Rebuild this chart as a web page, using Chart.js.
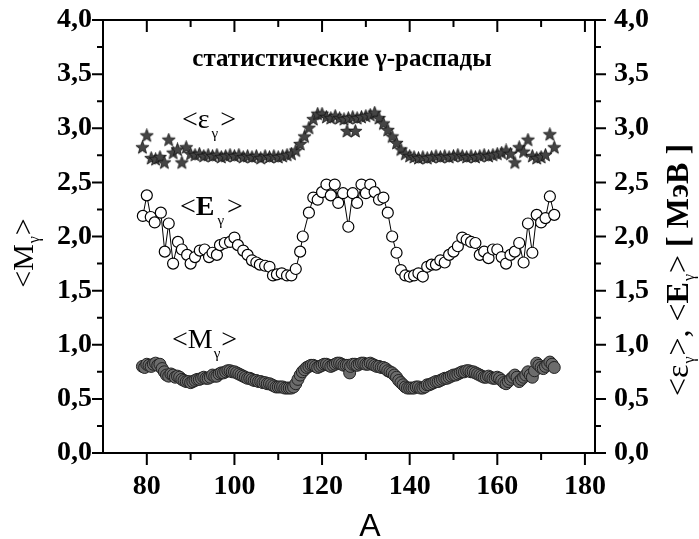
<!DOCTYPE html>
<html>
<head>
<meta charset="utf-8">
<script src="https://cdn.jsdelivr.net/npm/chart.js@4/dist/chart.umd.min.js"></script>
<style>
  html, body { margin: 0; padding: 0; background: #fff; }
  #wrap { width: 699px; height: 539px; }
</style>
</head>
<body>
<div id="wrap"><canvas id="c" width="699" height="539"></canvas></div>
<script>
// Mean gamma-ray energy per decay step <ε_γ> (stars), MeV
const epsA = [79,80,81,82,83,84,85,86,87,88,89,90,91,92,93,94,95,96,97,98,99,100,101,102,103,104,105,106,107,108,109,110,111,112,113,114,115,116,117,118,119,120,121,122,123,124,125,125.7,126,127,127.6,128,129,130,131,132,133,134,135,136,137,138,139,140,141,142,143,144,145,146,147,148,149,150,151,152,153,154,155,156,157,158,159,160,161,162,163,164,165,166,167,168,169,170,171,172,173];
const epsVals = [2.82,2.93,2.72,2.71,2.73,2.68,2.89,2.77,2.80,2.68,2.82,2.76,2.75,2.76,2.74,2.75,2.74,2.75,2.73,2.74,2.75,2.74,2.75,2.73,2.74,2.73,2.74,2.72,2.74,2.73,2.74,2.73,2.74,2.75,2.76,2.79,2.85,2.92,3.00,3.08,3.13,3.13,3.10,3.09,3.11,3.09,3.08,2.97,3.09,3.10,2.97,3.09,3.10,3.11,3.12,3.14,3.09,3.04,2.98,2.92,2.86,2.80,2.76,2.74,2.73,2.72,2.73,2.72,2.73,2.74,2.73,2.74,2.73,2.74,2.75,2.74,2.73,2.74,2.73,2.74,2.75,2.74,2.75,2.76,2.77,2.79,2.76,2.68,2.82,2.78,2.89,2.74,2.72,2.73,2.75,2.94,2.82];

// Mean total gamma energy <E_γ> (open circles), MeV
const eA = [79.1,80,80.9,81.8,83.2,84.1,85,86,87.1,88,89.2,90,91,92.1,93.2,94.2,95,96,96.7,97.8,99,100,100.8,102,103,104,105,105.8,107,108,108.8,109.7,110.8,112,113,114,115,115.6,117,118,119,120,121,122,122.9,123.7,124.8,126,127,128,129,130,131,132,133,134,135,136,137,138,139,140,141,142,143,144,145,146,147,148,149,150,151,152,153,154,155,156,157,158,159,160,161,162,163,164,165,166,167,168,169,170,171,172,173];
const eVals = [2.19,2.38,2.18,2.13,2.22,1.86,2.12,1.75,1.95,1.88,1.83,1.75,1.81,1.87,1.88,1.81,1.85,1.83,1.92,1.94,1.95,1.99,1.92,1.87,1.83,1.78,1.76,1.74,1.73,1.72,1.64,1.65,1.66,1.64,1.64,1.70,1.86,2.00,2.22,2.36,2.34,2.41,2.48,2.38,2.48,2.31,2.40,2.09,2.40,2.31,2.48,2.40,2.48,2.41,2.34,2.36,2.22,2.00,1.85,1.69,1.64,1.63,1.64,1.66,1.63,1.72,1.74,1.74,1.78,1.76,1.83,1.86,1.91,1.99,1.97,1.95,1.94,1.83,1.86,1.80,1.88,1.88,1.81,1.75,1.83,1.86,1.94,1.76,2.12,1.85,2.20,2.13,2.17,2.37,2.20];

// Mean gamma multiplicity <M_γ> (filled circles)
const mA = [79,79.5,80,80.5,81,81.5,82,82.5,83,83.5,84,84.5,85,85.5,86,86.5,87,87.5,88,88.5,89,89.5,90,90.5,91,91.5,92,92.5,93,93.5,94,94.5,95,95.5,96,96.5,97,97.5,98,98.5,99,99.5,100,100.5,101,101.5,102,102.5,103,103.5,104,104.5,105,105.5,106,106.5,107,107.5,108,108.5,109,109.5,110,110.5,111,111.5,112,112.5,113,113.5,114,114.5,115,115.5,116,116.5,117,117.5,118,118.5,119,119.5,120,120.5,121,121.5,122,122.5,123,123.5,124,124.5,125,125.5,126,126.3,126.5,127,127.5,128,128.5,129,129.5,130,130.5,131,131.5,132,132.5,133,133.5,134,134.5,135,135.5,136,136.5,137,137.5,138,138.5,139,139.5,140,140.5,141,141.5,142,142.5,143,143.5,144,144.5,145,145.5,146,146.5,147,147.5,148,148.5,149,149.5,150,150.5,151,151.5,152,152.5,153,153.5,154,154.5,155,155.5,156,156.5,157,157.5,158,158.5,159,159.5,160,160.5,161,161.5,162,162.5,163,163.5,164,164.5,165,165.5,166,166.5,167,167.5,168,168.5,169,169.5,170,170.5,171,171.5,172,172.5,173];
const mVals = [0.80,0.79,0.82,0.81,0.80,0.82,0.83,0.81,0.82,0.78,0.75,0.72,0.71,0.73,0.72,0.70,0.71,0.70,0.68,0.67,0.66,0.66,0.65,0.66,0.67,0.68,0.68,0.69,0.70,0.69,0.69,0.70,0.72,0.71,0.71,0.73,0.74,0.74,0.75,0.76,0.76,0.75,0.75,0.74,0.73,0.72,0.71,0.70,0.69,0.69,0.68,0.67,0.67,0.66,0.66,0.65,0.65,0.64,0.64,0.63,0.62,0.61,0.61,0.61,0.61,0.60,0.60,0.60,0.60,0.61,0.64,0.68,0.72,0.75,0.77,0.79,0.80,0.81,0.81,0.80,0.79,0.80,0.81,0.82,0.82,0.81,0.80,0.81,0.82,0.83,0.83,0.82,0.81,0.81,0.81,0.74,0.80,0.82,0.82,0.81,0.82,0.83,0.83,0.82,0.82,0.83,0.82,0.81,0.80,0.80,0.79,0.79,0.78,0.76,0.75,0.74,0.72,0.70,0.67,0.65,0.63,0.61,0.60,0.60,0.60,0.60,0.61,0.61,0.60,0.60,0.61,0.63,0.63,0.64,0.65,0.66,0.66,0.67,0.68,0.69,0.69,0.70,0.71,0.72,0.72,0.73,0.74,0.75,0.75,0.76,0.76,0.75,0.75,0.74,0.73,0.72,0.71,0.70,0.70,0.71,0.70,0.69,0.69,0.70,0.69,0.67,0.65,0.64,0.66,0.68,0.70,0.72,0.70,0.66,0.68,0.70,0.72,0.75,0.72,0.70,0.76,0.83,0.81,0.79,0.78,0.80,0.82,0.84,0.82,0.79];

// Axis ticks
const xMajorTicks = [80, 100, 120, 140, 160, 180];
const xMinorTicks = [90, 110, 130, 150, 170];
const yMajorTicks = [0, 0.5, 1, 1.5, 2, 2.5, 3, 3.5, 4];
const yMinorTicks = [0.25, 0.75, 1.25, 1.75, 2.25, 2.75, 3.25, 3.75];

const SERIF = '"Liberation Serif", "Times New Roman", serif';
const SANS = '"Liberation Sans", Arial, sans-serif';

const pts = (xs, ys) => xs.map((x, i) => ({ x, y: ys[i] }));

// five-pointed star marker
function makeStar(size) {
  const c = document.createElement('canvas');
  c.width = size; c.height = size;
  const g = c.getContext('2d');
  const cx = size / 2, cy = size / 2, R = size / 2 - 0.6, r = R * 0.42;
  g.beginPath();
  for (let i = 0; i < 10; i++) {
    const rad = i % 2 === 0 ? R : r;
    const ang = -Math.PI / 2 + i * Math.PI / 5;
    const px = cx + rad * Math.cos(ang), py = cy + rad * Math.sin(ang);
    if (i === 0) g.moveTo(px, py); else g.lineTo(px, py);
  }
  g.closePath();
  g.fillStyle = '#454545';
  g.fill();
  g.lineWidth = 0.8;
  g.strokeStyle = '#111';
  g.stroke();
  return c;
}
const starImg = makeStar(15);

// text run with subscripts: pieces = [text, font, dy, dxBefore]
function runWidth(ctx, pieces) {
  let w = 0;
  for (const [t, f, dy, dx] of pieces) { ctx.font = f; w += (dx || 0) + ctx.measureText(t).width; }
  return w;
}
function runText(ctx, x, y, pieces) {
  let cx = x;
  for (const [t, f, dy, dx] of pieces) {
    ctx.font = f;
    cx += dx || 0;
    ctx.fillText(t, cx, y + (dy || 0));
    cx += ctx.measureText(t).width;
  }
}

const R28 = '28px ' + SERIF, B28 = 'bold 28px ' + SERIF, R30 = '30px ' + SERIF, R32 = '32px ' + SERIF;
const S15 = '15px ' + SERIF, S16 = '16px ' + SERIF;

const decor = {
  id: 'decor',
  afterDraw(chart) {
    const { ctx, chartArea: a, scales: { x, y } } = chart;
    ctx.save();
    ctx.strokeStyle = '#000';
    ctx.lineWidth = 2;
    // frame
    ctx.strokeRect(a.left, a.top, a.right - a.left, a.bottom - a.top);
    ctx.beginPath();
    const yt = (v, len) => {
      const p = y.getPixelForValue(v);
      ctx.moveTo(a.left - len, p); ctx.lineTo(a.left, p);
      ctx.moveTo(a.right, p); ctx.lineTo(a.right + len, p);
    };
    const xt = (v, len) => {
      const p = x.getPixelForValue(v);
      ctx.moveTo(p, a.bottom); ctx.lineTo(p, a.bottom + len);
      ctx.moveTo(p, a.top); ctx.lineTo(p, a.top + len);
    };
    yMajorTicks.forEach(v => yt(v, 11));
    yMinorTicks.forEach(v => yt(v, 6));
    xMajorTicks.forEach(v => xt(v, 12));
    xMinorTicks.forEach(v => xt(v, 7));
    ctx.stroke();

    ctx.fillStyle = '#000';
    ctx.textBaseline = 'alphabetic';
    ctx.textAlign = 'left';

    // heading
    ctx.font = 'bold 25px ' + SERIF;
    ctx.textAlign = 'center';
    ctx.fillText('статистические γ-распады', 342, 66);
    ctx.textAlign = 'left';

    // series labels
    runText(ctx, 182, 128, [['<ε', R28], ['γ', S15, 10, 2], ['>', R28, 0, 2]]);
    runText(ctx, 180, 215, [['<', R28], ['E', B28], ['γ', S15, 10, 3], ['>', R28, 0, 3]]);
    runText(ctx, 172, 348, [['<M', R28], ['γ', S15, 10, 1], ['>', R28, 0, 1]]);

    // x axis title
    ctx.font = '32px ' + SANS;
    ctx.textAlign = 'center';
    ctx.fillText('A', 370, 536);
    ctx.textAlign = 'left';

    // left axis title
    const leftT = [['<M', R30], ['γ', S16, 6, 1], ['>', R30, 0, 1]];
    const lw = runWidth(ctx, leftT);
    ctx.save();
    ctx.translate(33, 253 + lw / 2);
    ctx.rotate(-Math.PI / 2);
    runText(ctx, 0, 0, leftT);
    ctx.restore();

    // right axis title
    const rightT = [['<ε', R32], ['γ', S16, 6, 1], ['>, <', R32, 0, 1], ['E', 'bold 32px ' + SERIF], ['γ', S16, 6, 1], ['>', R32, 0, 1], [' [ МэВ ]', 'bold 32px ' + SERIF]];
    const rw = runWidth(ctx, rightT);
    ctx.save();
    ctx.translate(688, 270 + rw / 2);
    ctx.rotate(-Math.PI / 2);
    runText(ctx, 0, 0, rightT);
    ctx.restore();

    ctx.restore();
  }
};

const tickFont = { family: SERIF, size: 28, weight: 'bold' };
const commaFmt = v => v.toFixed(1).replace('.', ',');
// fixed axis sizes, no extra label overhang padding
const fixSize = (w, h) => s => {
  if (w !== null) s.width = w;
  if (h !== null) s.height = h;
  s.paddingTop = 0; s.paddingBottom = 0; s.paddingLeft = 0; s.paddingRight = 0;
};

new Chart(document.getElementById('c'), {
  type: 'scatter',
  data: {
    datasets: [
      {
        label: '<M_γ>',
        data: pts(mA, mVals),
        showLine: false,
        pointRadius: 6,
        pointBackgroundColor: '#6c6c6c',
        pointBorderColor: '#222',
        pointBorderWidth: 1,
        yAxisID: 'y'
      },
      {
        label: '<E_γ>',
        data: pts(eA, eVals),
        showLine: true,
        borderColor: '#000',
        borderWidth: 1,
        pointRadius: 5.5,
        pointBackgroundColor: '#fff',
        pointBorderColor: '#000',
        pointBorderWidth: 1.2,
        yAxisID: 'y'
      },
      {
        label: '<ε_γ>',
        data: pts(epsA, epsVals),
        showLine: false,
        pointStyle: starImg,
        pointRadius: 7,
        yAxisID: 'y'
      }
    ]
  },
  options: {
    responsive: false,
    animation: false,
    events: [],
    layout: { padding: { top: 20, left: 0, right: 0, bottom: 0 } },
    plugins: { legend: { display: false }, tooltip: { enabled: false }, title: { display: false } },
    scales: {
      x: {
        type: 'linear',
        min: 70, max: 182.3,
        afterBuildTicks: s => { s.ticks = xMajorTicks.map(v => ({ value: v })); },
        afterFit: fixSize(null, 86),
        grid: { display: false, drawTicks: false, tickLength: 0 },
        border: { display: false },
        ticks: { font: tickFont, color: '#000', padding: 17, maxRotation: 0, callback: v => String(v) }
      },
      y: {
        position: 'left',
        min: 0, max: 4,
        afterBuildTicks: s => { s.ticks = yMajorTicks.map(v => ({ value: v })); },
        afterFit: fixSize(103, null),
        grid: { display: false, drawTicks: false, tickLength: 0 },
        border: { display: false },
        ticks: { font: tickFont, color: '#000', padding: 11, callback: commaFmt }
      },
      y2: {
        position: 'right',
        min: 0, max: 4,
        afterBuildTicks: s => { s.ticks = yMajorTicks.map(v => ({ value: v })); },
        afterFit: fixSize(104, null),
        grid: { display: false, drawTicks: false, tickLength: 0 },
        border: { display: false },
        ticks: { font: tickFont, color: '#000', padding: 19, callback: commaFmt }
      }
    }
  },
  plugins: [decor]
});
</script>
</body>
</html>
